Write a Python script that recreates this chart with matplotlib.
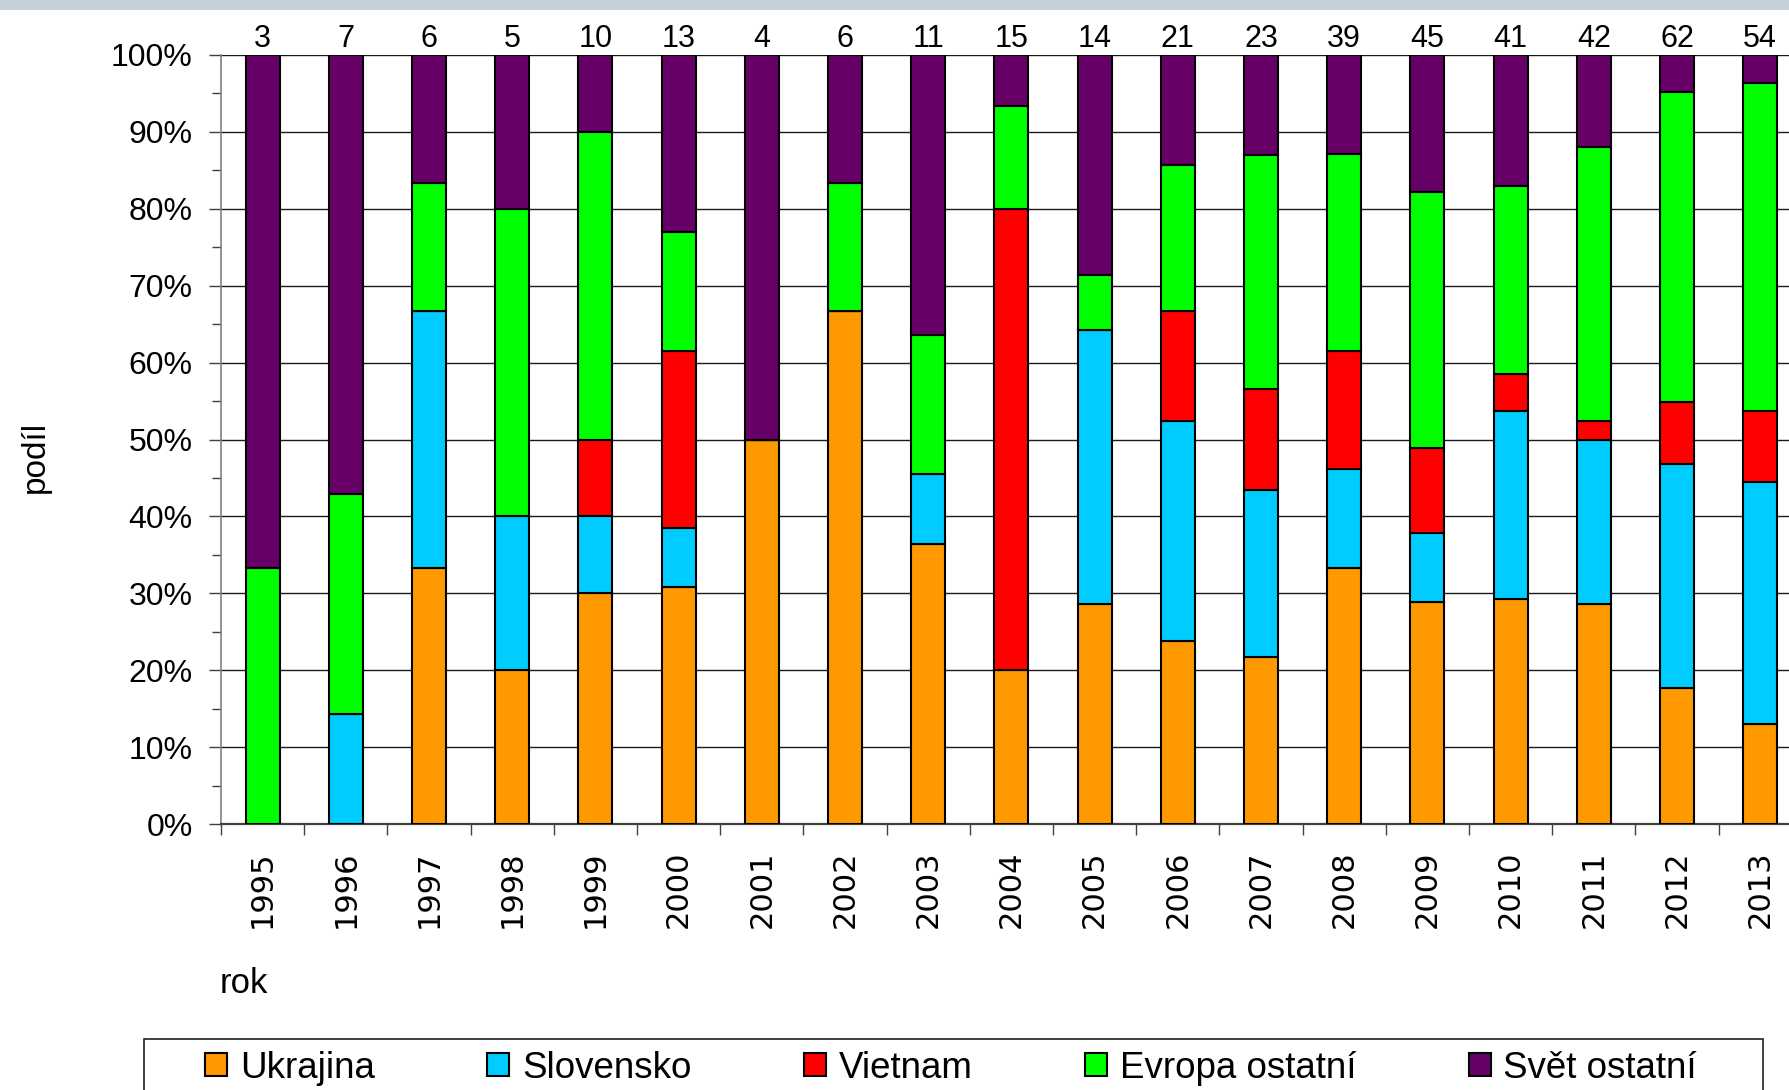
import numpy as np
import matplotlib.pyplot as plt
from matplotlib.patches import Rectangle

years = ['1995', '1996', '1997', '1998', '1999', '2000', '2001', '2002', '2003', '2004',
         '2005', '2006', '2007', '2008', '2009', '2010', '2011', '2012', '2013']
totals = [3, 7, 6, 5, 10, 13, 4, 6, 11, 15, 14, 21, 23, 39, 45, 41, 42, 62, 54]

ukrajina = [0, 0, 2, 1, 3, 4, 2, 4, 4, 3, 4, 5, 5, 13, 13, 12, 12, 11, 7]
slovensko = [0, 1, 2, 1, 1, 1, 0, 0, 1, 0, 5, 6, 5, 5, 4, 10, 9, 18, 17]
vietnam = [0, 0, 0, 0, 1, 3, 0, 0, 0, 9, 0, 3, 3, 6, 5, 2, 1, 5, 5]
evropa = [1, 2, 1, 2, 4, 2, 0, 1, 2, 2, 1, 4, 7, 10, 15, 10, 15, 25, 23]
svet = [2, 4, 1, 1, 1, 3, 2, 1, 4, 1, 4, 3, 3, 5, 8, 7, 5, 3, 2]

labels = ['Ukrajina', 'Slovensko', 'Vietnam', 'Evropa ostatní', 'Svět ostatní']
colors = ['#FF9900', '#00CCFF', '#FF0000', '#00FF00', '#660066']

W, H = 1789, 1090
plt.rcParams['font.family'] = ['Liberation Sans', 'DejaVu Sans']

fig = plt.figure(figsize=(W / 100, H / 100), dpi=100)
fig.patches.append(Rectangle((0, 1 - 10 / H), 1, 10 / H, transform=fig.transFigure,
                             facecolor='#C6D0DA', edgecolor='none'))

step = 83.2
ax = fig.add_axes([221 / W, (H - 824) / H, 19 * step / W, (824 - 55) / H])

x = np.arange(len(years))
tot = np.array(totals, dtype=float)
bottom = np.zeros(len(years))
for vals, lab, col in zip([ukrajina, slovensko, vietnam, evropa, svet], labels, colors):
    share = np.array(vals) / tot
    ax.bar(x, share, 0.41, bottom=bottom, color=col, edgecolor='black',
           linewidth=1.5, label=lab, zorder=3)
    bottom += share

for i, t in enumerate(totals):
    ax.annotate(str(t), (i, 1.0), xytext=(0, 6), textcoords='offset points',
                ha='center', va='baseline', fontsize=22)

ax.set_xlim(-0.5, len(years) - 0.5)
ax.set_ylim(0, 1)
ax.set_yticks(np.arange(0, 1.01, 0.1))
ax.set_yticks(np.arange(0.05, 1, 0.1), minor=True)
ax.set_yticklabels([f'{int(round(v * 100))}%' for v in np.arange(0, 1.01, 0.1)], fontsize=23)
ax.tick_params(axis='y', which='major', length=8.5, width=1, color='#404040', pad=12)
ax.tick_params(axis='y', which='minor', length=6.5, width=1, color='#404040')

ax.set_xticks(x)
ax.set_xticks(np.arange(-0.5, len(years), 1), minor=True)
ax.set_xticklabels(years, rotation=90, fontsize=22, family='DejaVu Sans')
ax.tick_params(axis='x', which='major', length=0, pad=19)
ax.tick_params(axis='x', which='minor', length=8, width=1, color='#404040')

ax.yaxis.grid(True, color='#1a1a1a', linewidth=1.0, zorder=0)
ax.set_axisbelow(True)
for s in ['top', 'right']:
    ax.spines[s].set_visible(False)
ax.spines['left'].set_color('#808080')
ax.spines['left'].set_linewidth(1.2)
ax.spines['bottom'].set_color('#404040')
ax.spines['bottom'].set_linewidth(1.6)

fig.text(35 / W, 1 - 457 / H, 'podíl', rotation=90, ha='center', va='center', fontsize=24)
fig.text(220 / W, 1 - 993 / H, 'rok', ha='left', va='baseline', fontsize=25)

# legend frame runs past the bottom edge of the picture
fig.patches.append(Rectangle((144 / W, 1 - 1120 / H), (1763 - 144) / W, 81 / H,
                             transform=fig.transFigure, facecolor='none',
                             edgecolor='#202020', linewidth=1.2))
fig.legend(loc='center left', bbox_to_anchor=(205 / W, 1 - 1068 / H), ncol=5,
           frameon=False, fontsize=26.5, borderpad=0, borderaxespad=0,
           handlelength=0.6, handleheight=0.6, handletextpad=0.35,
           columnspacing=3.05)

fig.savefig('out.png', dpi=100)
